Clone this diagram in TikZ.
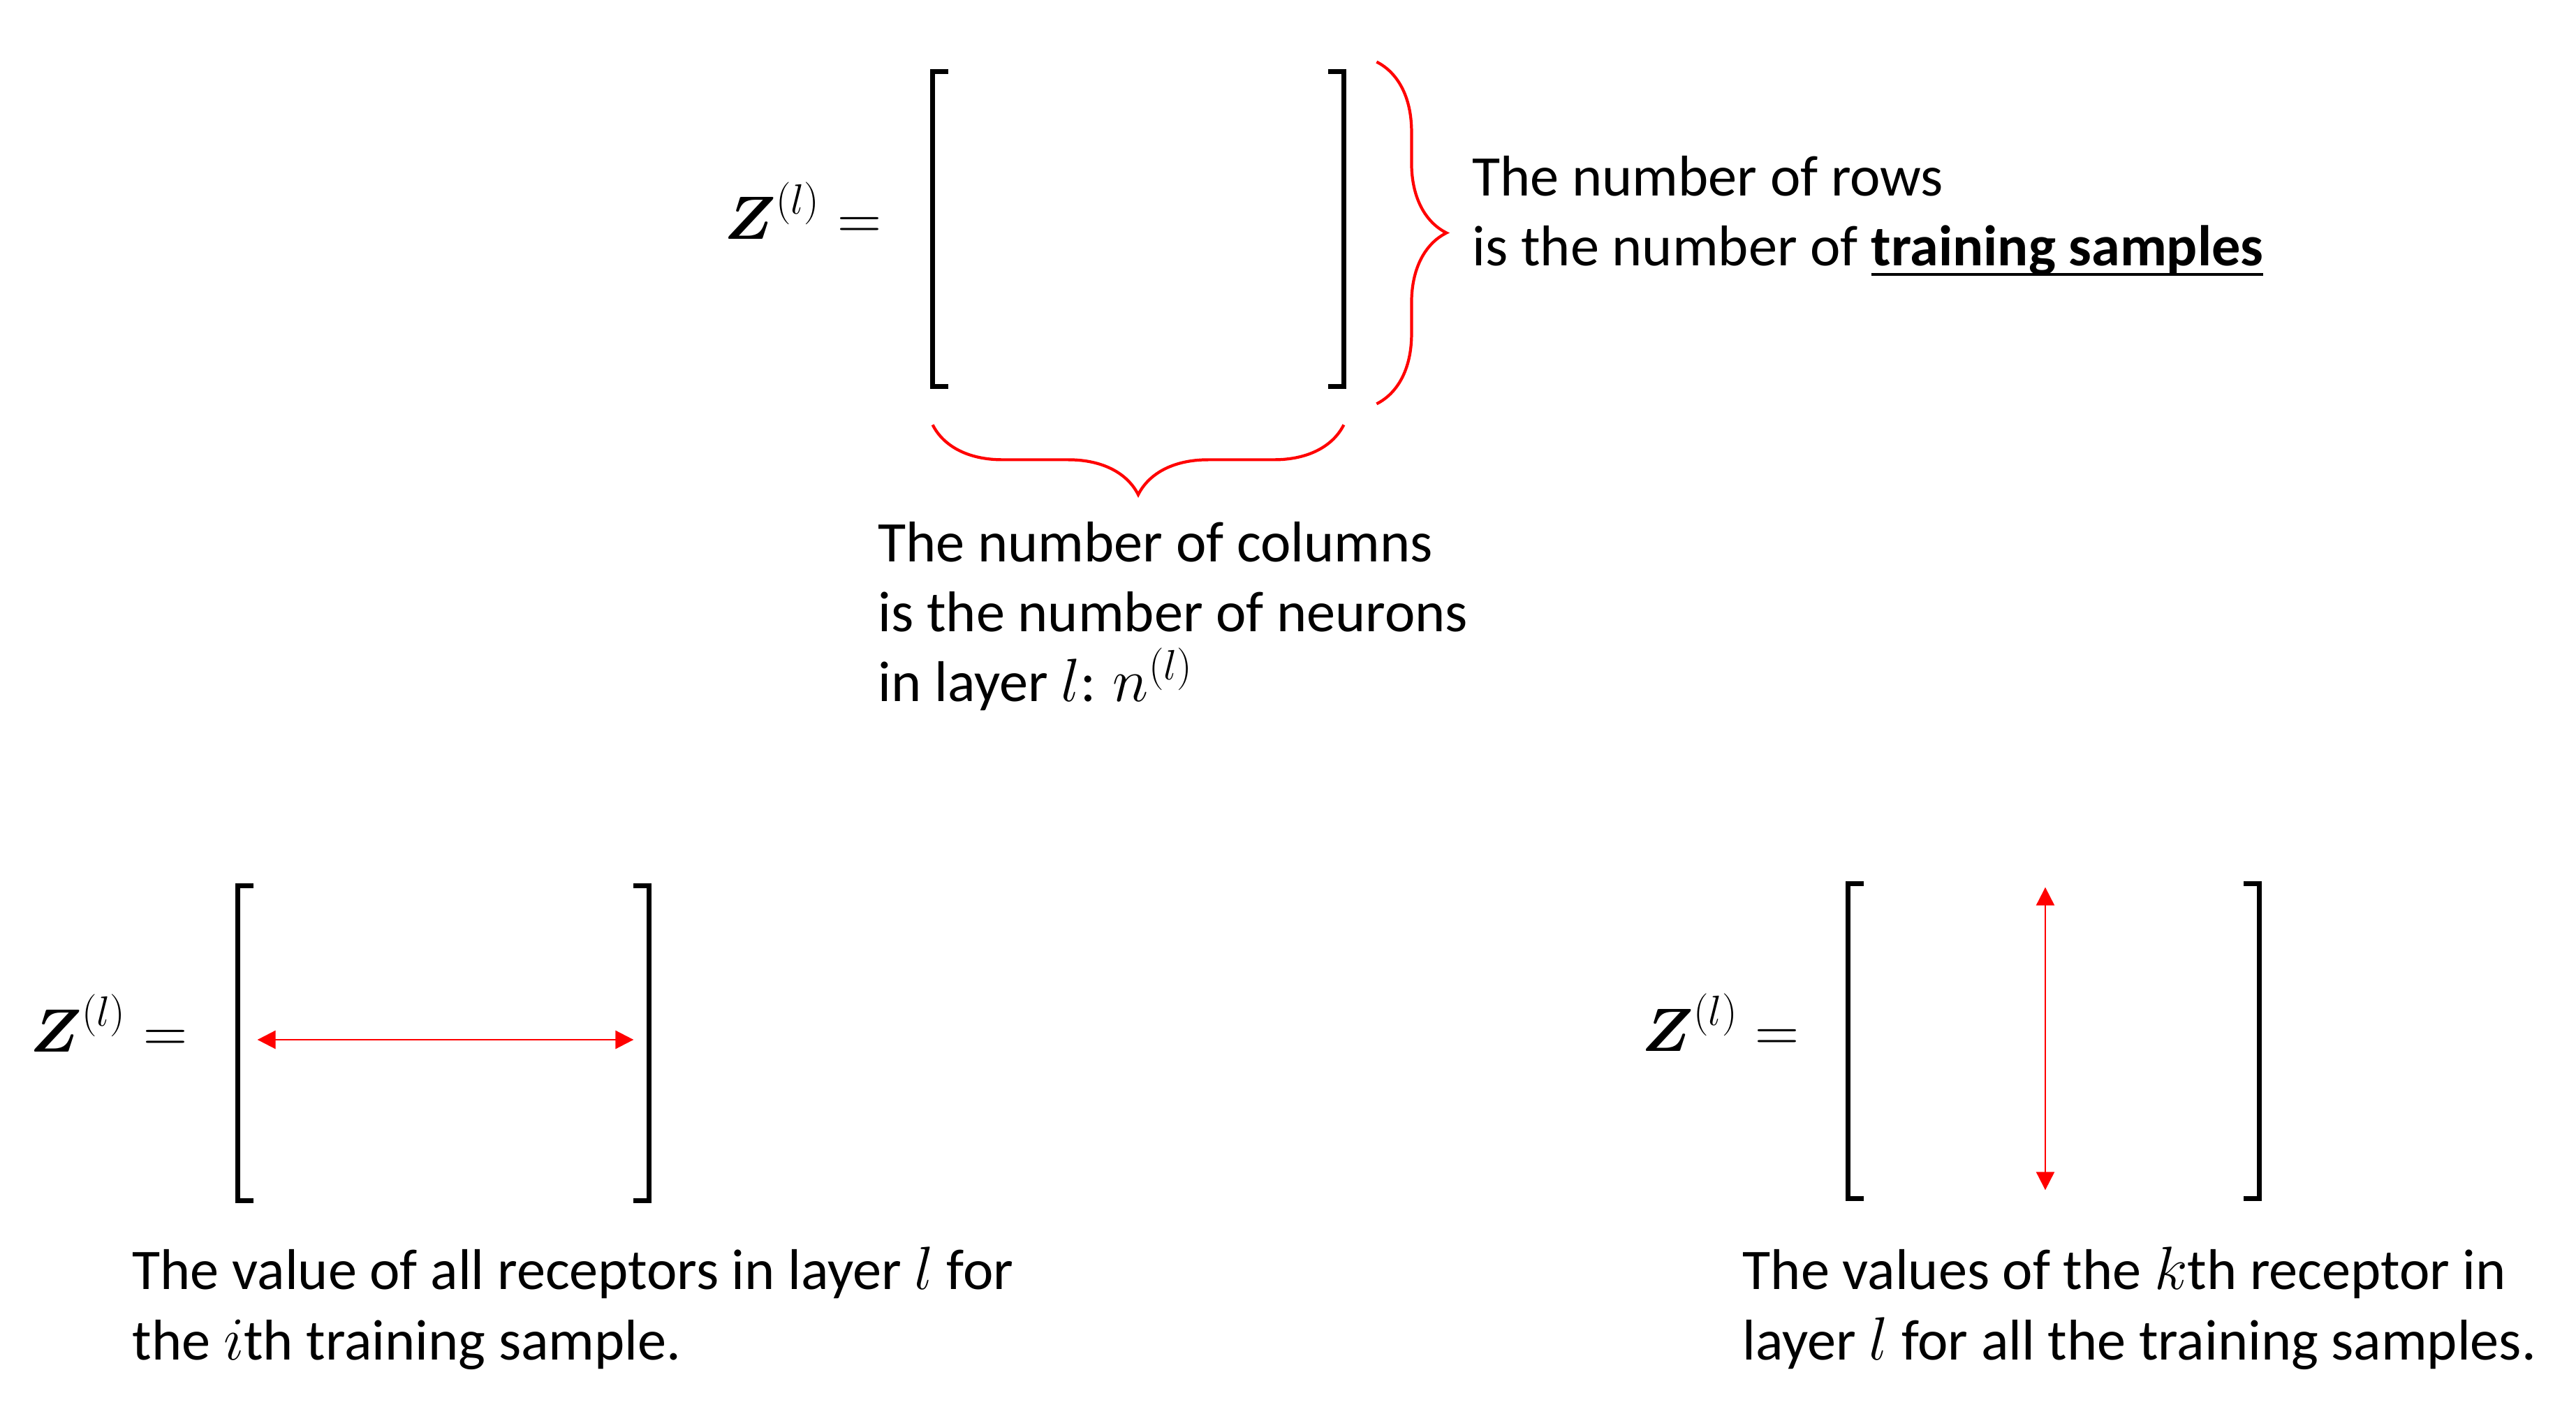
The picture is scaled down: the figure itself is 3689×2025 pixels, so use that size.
\documentclass[tikz,border=0pt]{standalone}
\usepackage{amsmath}
\usepackage{fontspec}
\setmainfont{Carlito}
\usetikzlibrary{positioning,arrows.meta,decorations.pathreplacing}
\definecolor{markred}{RGB}{255,0,0}
\newcommand{\notefont}{\fontsize{23.4}{28.45}\selectfont}
\newcommand{\eqfont}{\fontsize{23}{26}\selectfont}
\tikzset{
  matpane/.style={minimum width=5.87cm, minimum height=4.49cm, inner sep=0pt},
  bracket/.style={line width=2.1pt},
  bracemark/.style={draw=markred, line width=1.2pt, decorate, decoration={brace, amplitude=1cm}},
  spanarrow/.style={{Triangle[length=0.26cm,width=0.26cm]}-{Triangle[length=0.26cm,width=0.26cm]}, draw=markred, fill=markred, line width=0.8pt},
  eqlabel/.style={anchor=base west, inner sep=0pt, font=\eqfont},
  notetext/.style={anchor=base west, inner sep=0pt, align=left, font=\notefont}
}

\begin{document}
\begin{tikzpicture}[x=0.01cm, y=-0.01cm]
  \useasboundingbox (0,0) rectangle (3689,2025);
  % top matrix
  \node[matpane] (topmat) at (1630,328) {};
  \node[eqlabel] (topeq) at (1037,343) {$\boldsymbol{Z}^{(l)} =$};
  \draw[bracket] ([xshift=0.22cm]topmat.north west) -- (topmat.north west) -- (topmat.south west) -- ++(22,0);
  \draw[bracket] ([xshift=-0.22cm]topmat.north east) -- (topmat.north east) -- (topmat.south east) -- ++(-22,0);
  \coordinate (rowtop) at ([xshift=0.47cm,yshift=0.14cm]topmat.north east);
  \coordinate (rowbot) at ([xshift=0.47cm,yshift=-0.25cm]topmat.south east);
  \coordinate (colright) at ([yshift=-0.55cm]topmat.south east);
  \coordinate (colleft) at ([yshift=-0.55cm]topmat.south west);
  \draw[bracemark] (rowtop) -- (rowbot);
  \draw[bracemark] (colright) -- (colleft);
  % base anchor of a multi-line note sits on its last line
  \node[notetext] (rownote) at (2108,381) {The number of rows\\is the number of $\underline{\smash{\text{\textbf{training samples}}}}$};
  \node[notetext] (colnote) at (1257,1005) {The number of columns\\is the number of neurons\\in layer $l$: $n^{(l)}$};

  % bottom left matrix: one row
  \node[matpane] (leftmat) at (635,1494) {};
  \node[eqlabel] (lefteq) at (43,1506) {$\boldsymbol{Z}^{(l)} =$};
  \draw[bracket] ([xshift=0.22cm]leftmat.north west) -- (leftmat.north west) -- (leftmat.south west) -- ++(22,0);
  \draw[bracket] ([xshift=-0.22cm]leftmat.north east) -- (leftmat.north east) -- (leftmat.south east) -- ++(-22,0);
  \coordinate (rowstart) at ([xshift=0.28cm,yshift=0.05cm]leftmat.west);
  \coordinate (rowend) at ([xshift=-0.22cm,yshift=0.05cm]leftmat.east);
  \draw[spanarrow] (rowstart) -- (rowend);
  \node[notetext] (leftnote) at (189,1947) {The value of all receptors in layer $l$ for\\the $i$th training sample.};

  % bottom right matrix: one column
  \node[matpane] (rightmat) at (2941,1491) {};
  \node[eqlabel] (righteq) at (2351,1505) {$\boldsymbol{Z}^{(l)} =$};
  \draw[bracket] ([xshift=0.22cm]rightmat.north west) -- (rightmat.north west) -- (rightmat.south west) -- ++(22,0);
  \draw[bracket] ([xshift=-0.22cm]rightmat.north east) -- (rightmat.north east) -- (rightmat.south east) -- ++(-22,0);
  \coordinate (coltop) at ([xshift=-0.12cm,yshift=-0.05cm]rightmat.north);
  \coordinate (colbot) at ([xshift=-0.12cm,yshift=0.12cm]rightmat.south);
  \draw[spanarrow, line width=0.6pt] (coltop) -- (colbot);
  \node[notetext] (rightnote) at (2495,1947) {The values of the $k$th receptor in\\layer $l$ for all the training samples.};
\end{tikzpicture}
\end{document}
